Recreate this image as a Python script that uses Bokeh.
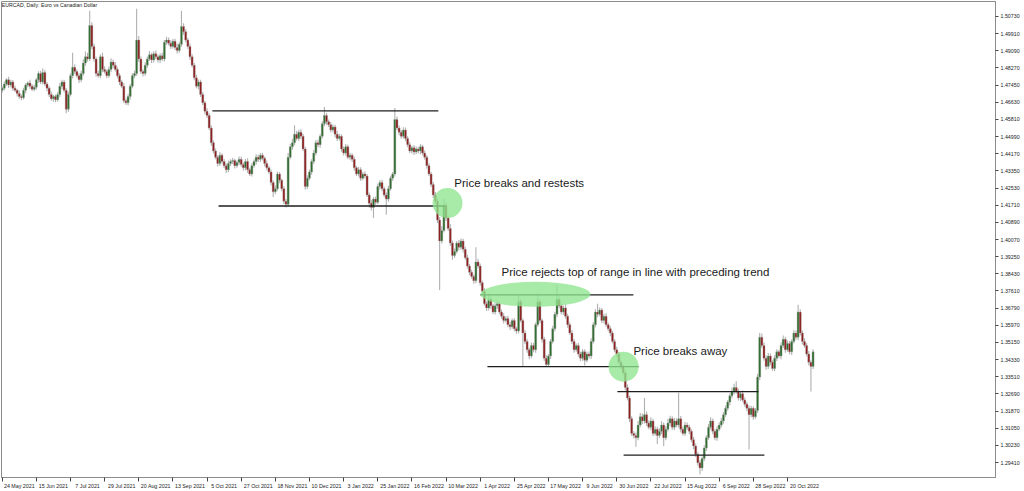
from bokeh.plotting import figure
from bokeh.models import Range1d, FixedTicker, PrintfTickFormatter, Label, ColumnDataSource
from bokeh.embed import file_html
from bokeh.resources import INLINE
from bokeh.core.properties import value

# ---------------- data ----------------
first_open = 1.4720
closes = [
    1.4730,1.4750,1.4770,1.4745,1.4760,1.4730,1.4720,1.4705,1.4690,1.4685,1.4720,1.4745,1.4755,1.4740,1.4725,1.4735,1.4770,1.4800,1.4760,1.4805,
    1.4750,1.4730,1.4700,1.4680,1.4690,1.4675,1.4700,1.4740,1.4760,1.4720,1.4630,1.4700,1.4790,1.4830,1.4810,1.4790,1.4770,1.4800,1.4850,1.4880,
    1.4870,1.5030,1.4930,1.4870,1.4800,1.4790,1.4880,1.4820,1.4810,1.4790,1.4820,1.4855,1.4840,1.4820,1.4790,1.4760,1.4740,1.4670,1.4660,1.4690,
    1.4740,1.4790,1.4800,1.4960,1.4870,1.4810,1.4800,1.4840,1.4870,1.4890,1.4865,1.4895,1.4880,1.4865,1.4885,1.4870,1.4950,1.4960,1.4945,1.4930,
    1.4955,1.4925,1.4910,1.4940,1.5025,1.5000,1.4960,1.4930,1.4880,1.4840,1.4780,1.4740,1.4760,1.4700,1.4660,1.4620,1.4600,1.4540,1.4470,1.4430,
    1.4400,1.4370,1.4410,1.4380,1.4360,1.4340,1.4370,1.4380,1.4385,1.4360,1.4375,1.4390,1.4365,1.4350,1.4380,1.4340,1.4320,1.4360,1.4380,1.4400,1.4390,
    1.4410,1.4395,1.4370,1.4350,1.4330,1.4280,1.4235,1.4250,1.4320,1.4290,1.4250,1.4190,1.4175,1.4400,1.4450,1.4470,1.4510,1.4490,1.4520,1.4500,
    1.4440,1.4260,1.4300,1.4330,1.4380,1.4420,1.4470,1.4460,1.4500,1.4560,1.4600,1.4570,1.4555,1.4530,1.4545,1.4510,1.4490,1.4500,1.4440,1.4420,
    1.4450,1.4400,1.4410,1.4390,1.4350,1.4320,1.4340,1.4300,1.4320,1.4310,1.4220,1.4180,1.4160,1.4200,1.4185,1.4260,1.4280,1.4250,1.4220,1.4200,
    1.4250,1.4300,1.4320,1.4580,1.4540,1.4520,1.4500,1.4530,1.4490,1.4460,1.4430,1.4445,1.4425,1.4440,1.4430,1.4450,1.4420,1.4400,1.4360,1.4320,
    1.4270,1.4220,1.4190,1.4100,1.4000,1.4050,1.4170,1.4110,1.4060,1.3990,1.3930,1.3950,1.3990,1.3970,1.4000,1.3960,1.3920,1.3880,1.3850,1.3830,
    1.3810,1.3900,1.3880,1.3800,1.3760,1.3700,1.3680,1.3720,1.3690,1.3660,1.3690,1.3700,1.3660,1.3640,1.3620,1.3630,1.3600,1.3590,1.3620,1.3580,
    1.3570,1.3710,1.3620,1.3560,1.3520,1.3480,1.3450,1.3500,1.3480,1.3600,1.3710,1.3620,1.3530,1.3440,1.3410,1.3450,1.3520,1.3580,1.3650,1.3720,
    1.3690,1.3660,1.3680,1.3640,1.3600,1.3560,1.3520,1.3480,1.3500,1.3460,1.3440,1.3470,1.3430,1.3460,1.3450,1.3520,1.3600,1.3660,1.3650,1.3670,
    1.3620,1.3640,1.3600,1.3580,1.3560,1.3520,1.3480,1.3460,1.3420,1.3400,1.3370,1.3300,1.3250,1.3150,1.3080,1.3070,1.3060,1.3120,1.3160,1.3140,
    1.3170,1.3130,1.3110,1.3140,1.3080,1.3100,1.3070,1.3090,1.3120,1.3060,1.3100,1.3130,1.3150,1.3110,1.3140,1.3120,1.3150,1.3100,1.3080,1.3120,1.3110,
    1.3090,1.3050,1.3020,1.2980,1.2940,1.2915,1.2960,1.3010,1.3060,1.3110,1.3140,1.3090,1.3060,1.3100,1.3120,1.3140,1.3170,1.3200,1.3230,1.3260,
    1.3280,1.3300,1.3280,1.3250,1.3270,1.3240,1.3220,1.3200,1.3170,1.3200,1.3160,1.3190,1.3350,1.3540,1.3500,1.3440,1.3400,1.3450,1.3420,1.3390,
    1.3440,1.3470,1.3450,1.3500,1.3530,1.3480,1.3510,1.3470,1.3520,1.3560,1.3540,1.3660,1.3560,1.3520,1.3500,1.3460,1.3420,1.3400,1.3470,
]
# upper / lower wick lengths in pips beyond the candle body
up_wick_pips = [
    10,12,8,15,10,9,12,8,14,10,12,9,8,15,10,12,9,11,14,20,
    12,10,9,14,8,10,12,15,10,9,11,14,12,70,15,10,12,14,18,25,
    20,70,15,12,10,14,12,20,15,10,14,18,12,15,10,12,9,14,10,12,
    10,12,14,150,20,12,10,14,12,18,10,12,15,10,12,14,10,16,12,14,
    10,12,18,12,75,15,12,10,14,12,10,15,12,10,12,9,14,10,12,10,
    12,10,14,9,12,10,15,10,12,8,10,14,12,10,12,15,10,12,9,14,12,
    10,12,9,14,10,12,10,15,12,10,9,12,10,20,15,18,43,15,12,14,
    12,10,14,12,10,15,12,14,10,12,40,12,10,14,12,10,15,12,10,12,
    14,10,12,9,12,10,14,12,10,12,10,12,15,10,12,14,10,12,10,12,
    14,12,10,55,15,12,10,14,12,10,12,10,14,12,10,12,9,12,10,12,
    10,12,14,10,15,20,30,15,12,20,12,14,10,15,12,10,12,14,10,12,
    10,70,15,12,10,14,12,25,15,10,12,14,10,12,15,10,12,14,10,12,
    10,30,12,10,14,12,10,15,12,10,40,12,10,12,14,10,12,15,12,70,
    14,12,10,15,12,10,14,12,10,12,10,14,12,10,12,15,12,14,40,12,
    10,12,14,10,12,10,12,14,10,12,10,12,14,10,12,10,15,20,18,15,
    80,15,12,18,10,14,12,15,18,12,14,20,15,12,14,12,125,14,12,15,12,
    12,10,14,12,10,12,10,14,12,15,18,12,10,14,12,15,12,14,10,12,
    20,18,30,14,12,15,12,10,14,12,10,12,15,20,18,15,12,14,12,10,
    14,12,10,15,18,12,14,12,10,15,12,35,14,12,15,12,14,10,12,
]
dn_wick_pips = [
    12,10,9,14,10,12,8,15,10,12,9,14,10,12,8,10,12,15,10,12,
    10,14,12,10,15,12,10,12,14,10,20,12,10,14,12,10,15,12,10,12,
    12,10,14,12,15,10,12,14,10,12,10,12,15,10,12,14,10,12,10,12,
    14,10,12,10,15,12,14,10,12,10,14,12,10,12,15,10,12,14,10,12,
    10,12,14,10,12,15,10,12,14,10,12,10,15,12,10,14,12,10,15,12,
    10,14,12,10,12,15,10,12,12,14,10,12,10,15,12,14,10,12,10,14,12,
    12,10,14,12,10,15,25,12,10,14,12,15,15,12,10,14,12,10,12,14,
    10,15,12,10,14,12,10,12,15,10,12,14,10,12,10,15,12,10,14,12,
    12,10,14,12,15,10,12,14,10,12,10,20,14,50,12,10,14,12,10,75,
    12,10,14,12,10,15,12,10,14,12,10,12,14,10,12,15,10,12,14,10,
    12,15,12,14,234,12,10,15,12,14,20,12,10,14,12,15,10,12,14,10,
    15,12,10,14,12,10,15,12,14,10,12,15,10,12,14,10,12,15,10,12,
    14,12,10,160,12,14,15,10,12,14,10,12,15,14,10,12,14,10,12,15,
    12,10,14,12,15,10,12,14,10,12,15,12,25,10,12,14,10,12,15,10,
    12,14,10,12,15,10,12,14,10,12,10,14,12,15,12,14,43,12,10,15,
    12,14,10,15,12,10,40,12,14,40,12,10,14,12,15,10,12,14,10,12,14,
    14,12,15,12,14,30,15,12,14,10,12,14,12,15,10,12,14,10,12,15,
    12,14,10,12,15,10,12,14,167,12,15,10,12,14,10,12,15,12,14,10,
    12,14,10,15,12,14,10,12,15,10,12,14,12,15,10,12,14,120,12,
]

date_labels = ["24 May 2021", "15 Jun 2021", "7 Jul 2021", "29 Jul 2021", "20 Aug 2021",
               "13 Sep 2021", "5 Oct 2021", "27 Oct 2021", "18 Nov 2021", "10 Dec 2021",
               "3 Jan 2022", "25 Jan 2022", "16 Feb 2022", "10 Mar 2022", "1 Apr 2022",
               "25 Apr 2022", "17 May 2022", "9 Jun 2022", "30 Jun 2022", "22 Jul 2022",
               "15 Aug 2022", "6 Sep 2022", "28 Sep 2022", "20 Oct 2022"]
date_label_bars = [0, 16, 32, 48, 64, 80, 96, 112, 128, 144, 160, 176, 192, 208, 224,
                   240, 256, 272, 288, 304, 320, 336, 352, 368]

price_ticks = [1.50730, 1.49910, 1.49090, 1.48270, 1.47450, 1.46630, 1.45810, 1.44990,
               1.44170, 1.43350, 1.42530, 1.41710, 1.40890, 1.40070, 1.39250, 1.38430,
               1.37610, 1.36790, 1.35970, 1.35150, 1.34330, 1.33510, 1.32690, 1.31870,
               1.31050, 1.30230, 1.29410]

# support / resistance lines (bar index start, end, price level)
line_start = [98.5, 101.4, 224.1, 227.4, 288.3, 291.2]
line_end = [204.4, 207.7, 295.8, 298.2, 354.4, 357.2]
line_level = [1.4622, 1.4167, 1.3742, 1.3399, 1.3280, 1.2976]

# highlighted zones (bar index, price)
zone_bar = [208.7, 249.9, 291.2]
zone_price = [1.4181, 1.3745, 1.3399]

note_texts = ["Price breaks and restests",
              "Price rejects top of range in line with preceding trend",
              "Price breaks away"]
note_bar = [211.9, 234.0, 295.8]
note_price = [1.4276, 1.3852, 1.3475]

title_text = "EURCAD, Daily:  Euro vs Canadian Dollar"

# ---------------- build candles ----------------
n = min(len(closes), len(up_wick_pips), len(dn_wick_pips))
closes = closes[:n]
opens = [first_open] + closes[:-1]
idx = list(range(n))
highs = [max(o, c) + u * 0.0001 for o, c, u in zip(opens, closes, up_wick_pips)]
lows = [min(o, c) - d * 0.0001 for o, c, d in zip(opens, closes, dn_wick_pips)]
tops = [max(o, c) for o, c in zip(opens, closes)]
bots = [min(o, c) for o, c in zip(opens, closes)]
cols = ["#2b6b2b" if c >= o else "#8c1a1a" for o, c in zip(opens, closes)]

src = ColumnDataSource(dict(x=idx, high=highs, low=lows, top=tops, bottom=bots, color=cols))

p = figure(width=1024, height=491,
           x_range=Range1d(-0.33, 465.5), y_range=Range1d(1.28695, 1.51445),
           output_backend="svg", toolbar_location=None, y_axis_location="right",
           min_border_left=1, min_border_top=1, min_border_bottom=13, min_border_right=29)
p.background_fill_color = "white"
p.border_fill_color = "white"
p.xgrid.visible = False
p.ygrid.visible = False
p.outline_line_color = "#8c8c8c"
p.outline_line_width = 1

p.segment(x0="x", y0="low", x1="x", y1="high", source=src, line_color="#b0b0b0", line_width=1.1)
p.vbar(x="x", width=0.95, top="top", bottom="bottom", source=src,
       fill_color="color", line_color="#a4a4a4", line_width=0.4)

p.segment(x0=line_start, y0=line_level, x1=line_end, y1=line_level,
          line_color="#1e1e1e", line_width=1.3)

p.ellipse(x=zone_bar[:1] + zone_bar[2:], y=zone_price[:1] + zone_price[2:],
          width=30, height=30, width_units="screen", height_units="screen",
          fill_color="#8fe68f", fill_alpha=0.78, line_color=None)
p.ellipse(x=zone_bar[1:2], y=zone_price[1:2], width=110, height=25,
          width_units="screen", height_units="screen",
          fill_color="#8fe68f", fill_alpha=0.78, line_color=None)

p.text(x=note_bar, y=note_price, text=note_texts, text_font=value("Liberation Sans"),
       text_font_size="11.5px", text_baseline="middle", text_align="left",
       text_color="#1a1a1a")

p.add_layout(Label(x=-0.2, y=1.5140, text=title_text, text_font="Liberation Sans",
                   text_font_size="5.2px", text_baseline="top", text_color="#222222"))

# x axis: labels start just right of their tick mark
label_pos = [b + round(0.8 + len(t) * 0.68) for b, t in zip(date_label_bars, date_labels)]
xa = p.xaxis[0]
xa.ticker = FixedTicker(ticks=label_pos, minor_ticks=date_label_bars)
xa.major_label_overrides = {pos: t for pos, t in zip(label_pos, date_labels)}
xa.major_tick_line_color = None
xa.major_tick_out = 2
xa.major_tick_in = 0
xa.minor_tick_line_color = "#444444"
xa.minor_tick_out = 4
xa.minor_tick_in = 0
xa.major_label_standoff = 1
xa.axis_line_color = "#8c8c8c"
xa.major_label_text_font = "Liberation Sans"
xa.major_label_text_font_size = "5.3px"
xa.major_label_text_color = "#222222"

ya = p.yaxis[0]
ya.ticker = FixedTicker(ticks=price_ticks)
ya.formatter = PrintfTickFormatter(format="%.5f")
ya.major_tick_out = 3
ya.major_tick_in = 0
ya.minor_tick_line_color = None
ya.major_tick_line_color = "#444444"
ya.major_label_standoff = 2
ya.axis_line_color = "#8c8c8c"
ya.major_label_text_font = "Liberation Sans"
ya.major_label_text_font_size = "5.3px"
ya.major_label_text_color = "#222222"

open("out.html", "w").write(file_html(p, INLINE))
